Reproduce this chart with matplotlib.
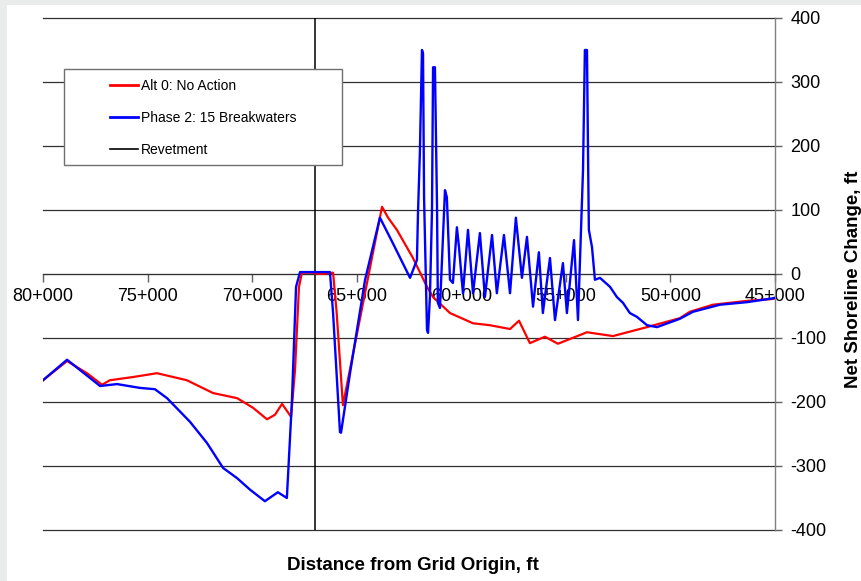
import matplotlib
matplotlib.use("Agg")
import matplotlib.pyplot as plt
import matplotlib.patches as mpatches
from matplotlib.lines import Line2D
from matplotlib.ticker import FuncFormatter

plt.rcParams['font.family'] = ['Liberation Sans', 'DejaVu Sans']
plt.rcParams['axes.unicode_minus'] = False

# Alt 0: No Action (distance ft, net shoreline change ft)
alt0_x = [80000, 78850, 77900, 77180, 76800, 75700, 74550, 73120, 71870, 70720,
          69960, 69290, 68910, 68570, 68140, 67950, 67760, 67620, 67200, 66700,
          66130, 65960, 65660, 63790, 63500, 63080, 62310, 61640, 61350, 60540,
          59440, 58630, 57670, 57240, 56720, 56000, 55380, 53990, 52750, 51120,
          49550, 49070, 47970, 46340, 45100, 45000]
alt0_y = [-166, -136, -155, -173, -166, -161, -155, -166, -186, -194,
          -209, -227, -220, -203, -223, -150, -20, 2, 2, 0,
          2, -60, -205, 105, 88, 69, 25, -20, -36, -61,
          -77, -80, -86, -73, -108, -98, -109, -91, -97, -83,
          -69, -59, -48, -42, -39, -38]

# Phase 2: 15 Breakwaters
ph2_x = [80000, 78850, 77270, 76460, 75360, 74650, 74070, 72970, 72160, 71390,
         70720, 70100, 69390, 68770, 68340, 68100, 67900, 67710, 66280, 66130,
         65800, 65750, 65320, 64600, 63890, 63270, 62450, 62120, 62070, 61980,
         61880, 61830, 61780, 61640, 61590, 61500, 61400, 61350, 61260, 61160,
         61120, 61020, 60780, 60690, 60540, 60400, 60210, 60110, 59920, 59680,
         59440, 59110, 58870, 58530, 58300, 57960, 57670, 57390, 57100, 56860,
         56570, 56290, 56100, 55760, 55520, 55140, 54950, 54610, 54420, 54180,
         54090, 53990, 53940, 53900, 53750, 53610, 53370, 52890, 52560, 52270,
         51940, 51600, 51120, 50640, 49550, 48920, 47630, 46340, 45100, 45000]
ph2_y = [-166, -134, -175, -172, -178, -180, -194, -231, -264, -303,
         -319, -337, -355, -341, -350, -200, -20, 3, 3, -61,
         -247, -248, -155, -9, 88, 48, -6, 22, 95, 189,
         350, 345, 120, -87, -92, -36, 100, 323, 323, 105,
         -45, -53, 131, 120, -9, -14, 73, 42, -30, 69,
         -30, 64, -36, 61, -30, 61, -30, 88, -6, 58,
         -51, 34, -61, 25, -72, 17, -61, 53, -72, 162,
         350, 350, 189, 69, 42, -9, -6, -20, -36, -45,
         -61, -67, -80, -83, -70, -59, -48, -44, -38, -37]

revetment_x = 67000
x_ticks = [80000, 75000, 70000, 65000, 60000, 55000, 50000, 45000]
y_ticks = [-400, -300, -200, -100, 0, 100, 200, 300, 400]
legend_labels = ['Alt 0: No Action', 'Phase 2: 15 Breakwaters', 'Revetment']

fig = plt.figure(figsize=(8.61, 5.81), dpi=100, facecolor='#e9ecea')
fig.patches.append(mpatches.Rectangle((7 / 861, 0), 1, 1 - 5 / 581,
                                      transform=fig.transFigure,
                                      facecolor='white', edgecolor='none', zorder=-5))

ax = fig.add_axes([43 / 861, 1 - 530 / 581, 732 / 861, 512 / 581])
ax.set_zorder(2)
ax.set_facecolor('white')
ax.set_axisbelow(True)

ax.plot(alt0_x, alt0_y, color='#ff0000', lw=1.6, zorder=3)
ax.plot(ph2_x, ph2_y, color='#0000ff', lw=1.7, zorder=4)
ax.axvline(revetment_x, color='black', lw=1.1, zorder=2)

ax.set_xlim(80000, 45000)
ax.set_ylim(-400, 400)

# horizontal gridlines
for v in y_ticks:
    ax.axhline(v, color='#303030', lw=0.9, zorder=1, clip_on=False)

ax.spines['left'].set_visible(False)
ax.spines['top'].set_visible(False)
ax.spines['right'].set_color('#808080')
ax.spines['right'].set_linewidth(1.0)
ax.spines['bottom'].set_position(('data', 0))
ax.spines['bottom'].set_color('#303030')

ax.set_xticks(x_ticks)
ax.xaxis.set_major_formatter(FuncFormatter(lambda v, p: f"{int(v) // 1000}+{int(v) % 1000:03d}"))
ax.tick_params(axis='x', direction='out', length=6, width=1, color='#606060',
               labelsize=13, pad=4, labelcolor='black')

ax.yaxis.tick_right()
ax.set_yticks(y_ticks)
ax.tick_params(axis='y', direction='out', length=5, width=1, color='#606060',
               labelsize=13, pad=6, right=True, left=False)

# legend with a separate frame
frame = mpatches.Rectangle(((64 - 43) / 732, (530 - 165) / 512), 278 / 732, 96 / 512,
                           transform=ax.transAxes, facecolor='white',
                           edgecolor='#707070', lw=1.0, zorder=5)
ax.add_patch(frame)
handles = [Line2D([], [], color='#ff0000', lw=2),
           Line2D([], [], color='#0000ff', lw=2),
           Line2D([], [], color='black', lw=1.2)]
leg = ax.legend(handles, legend_labels, loc='upper left',
                bbox_to_anchor=((110 - 43) / 732, (530 - 79) / 512),
                frameon=False, fontsize=10, handlelength=2.0, handletextpad=0.2,
                labelspacing=1.3, borderpad=0, borderaxespad=0)
leg.set_zorder(6)

fig.text(413 / 861, 1 - 566 / 581, 'Distance from Grid Origin, ft', ha='center', va='center',
         fontsize=13.5, fontweight='bold')
fig.text(854 / 861, 1 - 279 / 581, 'Net Shoreline Change, ft', ha='center', va='center',
         rotation=90, fontsize=13.5, fontweight='bold')

fig.savefig('out.png', dpi=100, facecolor=fig.get_facecolor())
